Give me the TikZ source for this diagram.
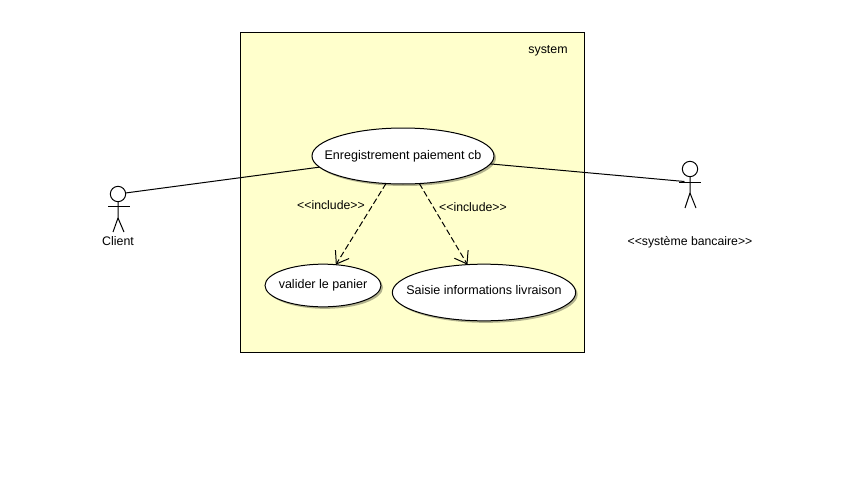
\documentclass[tikz,border=0pt]{standalone}
\usepackage{fontspec}
\setmainfont{Liberation Sans}
\usetikzlibrary{shapes.geometric,arrows.meta,shadows}
\definecolor{sysfill}{HTML}{FFFFCC}
\newcommand{\uctext}[2]{\smash{\raisebox{#1}{\makebox[0pt]{#2}}}}
\tikzset{
  line/.style={draw=black,line width=0.75pt},
  usecase/.style={ellipse,line,fill=white,inner sep=0pt,outer sep=0pt,font=\fontsize{9.4}{11}\selectfont,
    drop shadow={shadow xshift=1.5pt,shadow yshift=-1.5pt,fill=black,opacity=0.3}},
  label/.style={font=\fontsize{9.3}{11}\selectfont,inner sep=0pt,text=black},
  smalllabel/.style={font=\fontsize{9.2}{11}\selectfont,inner sep=0pt,text=black},
  include/.style={line,dash pattern=on 4.5pt off 2.2pt,-{Straight Barb[length=8.5pt,width=12pt,line width=0.75pt]}},
  head/.style={circle,line,inner sep=0pt,outer sep=0pt,minimum size=11.5pt},
  armbar/.style={rectangle,inner sep=0pt,outer sep=0pt,minimum width=16.5pt,minimum height=0.75pt,fill=black},
}
\begin{document}
\begin{tikzpicture}[x=0.75pt,y=-0.75pt]
\useasboundingbox (0,0) rectangle (844,496);
\node[line,fill=sysfill,rectangle,inner sep=0pt,outer sep=0pt,minimum width=258pt,minimum height=240pt] (sys) at (412,192) {};
\node[label] (systitle) at (548,50.5) {system};
\node[usecase,minimum width=136.5pt,minimum height=42pt] (paiement) at (403,156) {\uctext{-2.4pt}{Enregistrement paiement cb}};
\node[usecase,minimum width=87pt,minimum height=32pt] (panier) at (323,285.5) {\uctext{-1.9pt}{valider le panier}};
\node[usecase,minimum width=137.5pt,minimum height=42.5pt] (saisie) at (484,292.5) {\uctext{-1.4pt}{Saisie informations livraison}};
% client actor
\node[head] (clienthead) at (118,194) {};
\node[armbar] (clientarm) at (118.5,206) {};
\coordinate (clienthip) at (118,218);
\coordinate (clientl) at (113,232);
\coordinate (clientr) at (124,232);
\draw[line] (clienthead) -- (clienthip) -- (clientl);
\draw[line] (clienthip) -- (clientr);
\node[label] (clientlabel) at (118,241.5) {Client};
% bank actor
\node[head] (bankhead) at (690,169) {};
\node[armbar] (bankarm) at (690,182) {};
\coordinate (bankhip) at (690,193);
\coordinate (bankl) at (685,208);
\coordinate (bankr) at (696,208);
\draw[line] (bankhead) -- (bankhip) -- (bankl);
\draw[line] (bankhip) -- (bankr);
\node[smalllabel] (banklabel) at (690,242) {<{}<système bancaire>{}>};
% connectors
\draw[line] (clienthead) -- (paiement);
\draw[line] (paiement) -- (bankarm);
\draw[include] (paiement) -- (panier);
\draw[include] (paiement) -- (saisie);
\node[smalllabel] (inc1) at (331,205.5) {<{}<include>{}>};
\node[smalllabel] (inc2) at (473,207) {<{}<include>{}>};
\end{tikzpicture}
\end{document}
